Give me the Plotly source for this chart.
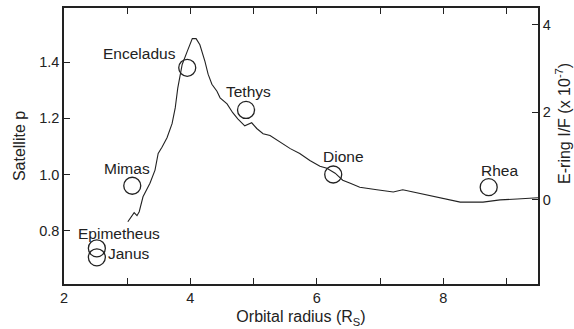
import plotly.graph_objects as go

# E-ring brightness profile (right axis, I/F x 1e-7)
ring_r = [3.01, 3.11, 3.155, 3.19, 3.25, 3.36, 3.44, 3.49, 3.55, 3.63, 3.71, 3.76, 3.80, 3.87,
          3.95, 4.03, 4.09, 4.15, 4.23, 4.28, 4.34, 4.42, 4.47, 4.58, 4.67, 4.75, 4.86, 4.97,
          5.05, 5.15, 5.26, 5.42, 5.58, 5.73, 5.89, 6.05, 6.16, 6.29, 6.41, 6.53, 6.68, 6.95,
          7.21, 7.36, 7.59, 7.90, 8.27, 8.63, 8.90, 9.17, 9.42, 9.50]
ring_if = [-0.50, -0.29, -0.36, -0.27, 0.07, 0.38, 0.68, 1.06, 1.20, 1.42, 1.74, 2.10, 2.55, 3.09,
           3.39, 3.68, 3.68, 3.54, 3.16, 2.87, 2.64, 2.48, 2.33, 2.19, 1.99, 1.85, 1.69, 1.76,
           1.63, 1.51, 1.47, 1.31, 1.17, 1.06, 0.90, 0.77, 0.72, 0.61, 0.45, 0.38, 0.29, 0.23,
           0.18, 0.23, 0.16, 0.05, -0.05, -0.05, 0.00, 0.02, 0.05, 0.05]

# Satellites (left axis)
sat_names = ["Epimetheus", "Janus", "Mimas", "Enceladus", "Tethys", "Dione", "Rhea"]
sat_r = [2.52, 2.52, 3.08, 3.95, 4.88, 6.26, 8.72]
sat_p = [0.737, 0.705, 0.96, 1.38, 1.23, 1.00, 0.955]
# label offsets in pixels (x right, y up)
label_dx = [22, 32, -5, -48, 2, 10, 11]
label_dy = [15, 4, 17, 14, 18, 18, 17]

INK = "#222222"
FONT = "Liberation Sans, Arial, sans-serif"

fig = go.Figure()
fig.add_trace(go.Scatter(x=ring_r, y=ring_if, mode="lines", yaxis="y2",
                         line=dict(color=INK, width=1.1), showlegend=False))
fig.add_trace(go.Scatter(x=sat_r, y=sat_p, mode="markers",
                         marker=dict(symbol="circle-open", size=17, color=INK,
                                     line=dict(width=1.3, color=INK)),
                         showlegend=False))

for n, x, y, dx, dy in zip(sat_names, sat_r, sat_p, label_dx, label_dy):
    fig.add_annotation(x=x, y=y, xref="x", yref="y", text=n, showarrow=False,
                       xshift=dx, yshift=dy, font=dict(size=15.5, color=INK, family=FONT))

fig.add_annotation(x=1.0, y=0.58, xref="paper", yref="paper", xanchor="center",
                   xshift=25, text="E-ring I/F (x 10<sup>-7</sup>)", textangle=-90,
                   showarrow=False, font=dict(size=16, color=INK, family=FONT))

axis_common = dict(showline=True, linecolor=INK, linewidth=1.5, ticks="inside",
                   tickcolor=INK, tickwidth=1.2, ticklen=6, showgrid=False, zeroline=False,
                   tickfont=dict(size=14.5, color=INK, family=FONT))

fig.update_layout(
    width=574, height=329,
    margin=dict(l=64, r=36, t=6, b=44),
    paper_bgcolor="white", plot_bgcolor="white",
    font=dict(family=FONT, color=INK),
    xaxis=dict(range=[2, 9.5], dtick=2, tick0=2, mirror="ticks",
               minor=dict(ticks="inside", dtick=1, tick0=2, ticklen=6, tickcolor=INK, tickwidth=1.2),
               title=dict(text="Orbital radius (R<sub>S</sub>)", font=dict(size=16, color=INK, family=FONT),
                          standoff=6),
               **axis_common),
    yaxis=dict(range=[0.61, 1.593], tickvals=[0.8, 1.0, 1.2, 1.4], tickformat=".1f",
               title=dict(text="Satellite p", font=dict(size=16, color=INK, family=FONT), standoff=10),
               **axis_common),
    yaxis2=dict(range=[-1.92, 4.38], overlaying="y", side="right", tickvals=[0, 2, 4],
                **axis_common),
)

fig.write_html("out.html")
